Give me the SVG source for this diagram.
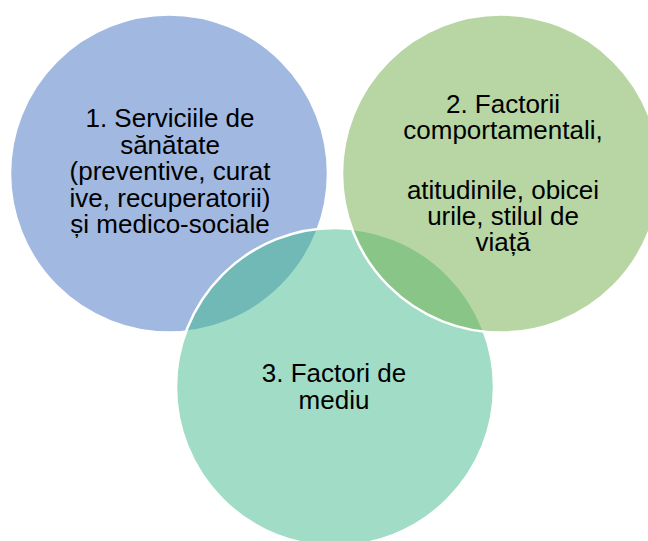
<svg xmlns="http://www.w3.org/2000/svg" width="648" height="541" viewBox="0 0 648 541">
<style>
.c{stroke:#ffffff;stroke-width:2.5;fill-opacity:0.5}
.t{font-family:"Liberation Sans",Arial,sans-serif;font-size:26px;fill:#000000;text-anchor:middle}
</style>
<rect width="648" height="541" fill="#ffffff"/>
<g id="node1">
<circle class="c" cx="169" cy="173.5" r="159" fill="#4472C4"/>
<text class="t"><tspan x="170" y="127">1. Serviciile de</tspan><tspan x="170" y="153.5">sănătate</tspan><tspan x="170" y="180">(preventive, curat</tspan><tspan x="170" y="206.5">ive, recuperatorii)</tspan><tspan x="170" y="233">și medico-sociale</tspan></text>
</g>
<g id="node3">
<circle class="c" cx="335" cy="387" r="159" fill="#41B98D"/>
<text class="t"><tspan x="334" y="382">3. Factori de</tspan><tspan x="334" y="408.5">mediu</tspan></text>
</g>
<g id="node2">
<circle class="c" cx="501" cy="173.5" r="159" fill="#70AD47"/>
<text class="t"><tspan x="503" y="113">2. Factorii</tspan><tspan x="503" y="139">comportamentali,</tspan><tspan x="503" y="199">atitudinile, obicei</tspan><tspan x="503" y="225">urile, stilul de</tspan><tspan x="503" y="251">viață</tspan></text>
</g>
<g id="connectors"></g>
</svg>
